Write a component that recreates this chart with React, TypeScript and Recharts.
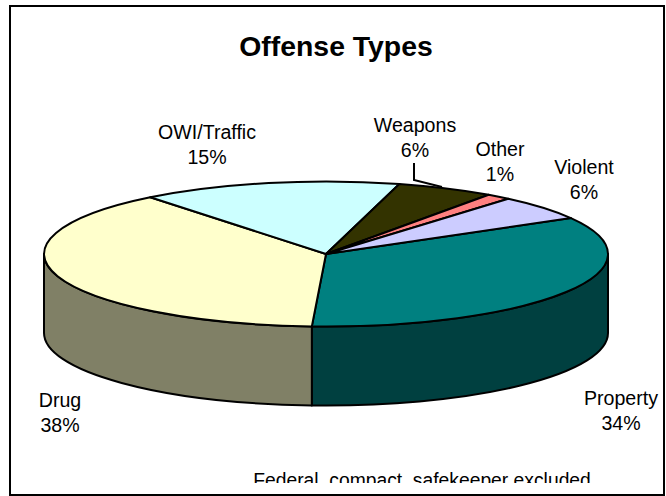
import React from "react";
import { PieChart, Pie, Cell } from "recharts";

const categories = ["Property", "Drug", "OWI/Traffic", "Weapons", "Other", "Violent"];
const shares = [34.05, 38.49, 14.9, 5.6, 1.4, 5.56];
const topColors = ["#008080", "#FFFFCC", "#CCFFFF", "#333300", "#FF8080", "#CCCCFF"];
const wallColors = ["#004040", "#808066", "#668080", "#1A1A00", "#804040", "#666680"];
const chartTitle = "Offense Types";
const footnote = "Federal, compact, safekeeper excluded";

const W = 666;
const H = 496;
const CX = 326;
const CY = 254;
const RX = 282;
const RY = 72.5;
const DEPTH = 79;
const FONT = "'Liberation Sans', Arial, sans-serif";
const LABEL_SIZE = 19.6;

const labelPos: Record<string, [number, number]> = {
  Property: [621, 405],
  Drug: [60, 407],
  "OWI/Traffic": [207, 139],
  Weapons: [415, 132],
  Other: [500, 156],
  Violent: [584, 174],
};

const data = categories.map((name, i) => ({ name, value: shares[i] }));

const pt = (deg: number, dy = 0) => {
  const a = (deg * Math.PI) / 180;
  return [CX + RX * Math.cos(a), CY - RY * Math.sin(a) + dy];
};
const f = (n: number) => n.toFixed(2);

function EllipticSector(props: any) {
  const { startAngle, endAngle, index } = props;
  const [sx, sy] = pt(startAngle);
  const [ex, ey] = pt(endAngle);
  const large = Math.abs(endAngle - startAngle) > 180 ? 1 : 0;
  const top = `M${CX},${CY} L${f(sx)},${f(sy)} A${RX},${RY} 0 ${large} 1 ${f(ex)},${f(ey)} Z`;
  // the visible wall: part of the arc lying in the lower half (angles -180..0)
  const lo = Math.max(Math.min(startAngle, endAngle), -180);
  const hi = Math.min(Math.max(startAngle, endAngle), 0);
  let wall = null;
  if (hi > lo) {
    const [ax, ay] = pt(hi);
    const [bx, by] = pt(lo);
    const d = `M${f(ax)},${f(ay)} A${RX},${RY} 0 0 1 ${f(bx)},${f(by)} L${f(bx)},${f(by + DEPTH)} A${RX},${RY} 0 0 0 ${f(ax)},${f(ay + DEPTH)} Z`;
    wall = <path d={d} fill={wallColors[index]} stroke="#000" strokeWidth={2} strokeLinejoin="round" />;
  }
  return (
    <g>
      {wall}
      <path d={top} fill={topColors[index]} stroke="#000" strokeWidth={2} strokeLinejoin="round" />
    </g>
  );
}

function renderLabel(props: any) {
  const { name, percent } = props;
  const [x, y] = labelPos[name];
  return (
    <text x={x} y={y} textAnchor="middle" fontFamily={FONT} fontSize={LABEL_SIZE} fill="#000">
      <tspan x={x} dy={0}>{name}</tspan>
      <tspan x={x} dy={25}>{`${Math.round(percent * 100)}%`}</tspan>
    </text>
  );
}

export default function App() {
  return (
    <div style={{ position: "absolute", left: 0, top: 0, width: W, height: H, background: "#fff" }}>
      <PieChart width={W} height={H} margin={{ top: 0, right: 0, bottom: 0, left: 0 }}>
        <defs>
          <clipPath id="noteClip">
            <rect x={0} y={460} width={W} height={23} />
          </clipPath>
        </defs>
        <rect x={10} y={6} width={654} height={489} fill="#fff" stroke="#000" strokeWidth={2} />
        <text x={336} y={56} textAnchor="middle" fontFamily={FONT} fontSize={28.4} fontWeight="bold" fill="#000">
          {chartTitle}
        </text>
        <path d="M414,163 L414,180 L442,187" fill="none" stroke="#000" strokeWidth={2} />
        <Pie
          data={data}
          dataKey="value"
          nameKey="name"
          cx={CX}
          cy={CY}
          outerRadius={RX}
          startAngle={29.7}
          endAngle={-330.3}
          isAnimationActive={false}
          shape={EllipticSector}
          label={renderLabel}
          labelLine={false}
          stroke="#000"
        >
          {data.map((d, i) => (
            <Cell key={d.name} fill={topColors[i]} />
          ))}
        </Pie>
        <text x={422} y={487} textAnchor="middle" fontFamily={FONT} fontSize={19.3} fill="#000" clipPath="url(#noteClip)">
          {footnote}
        </text>
      </PieChart>
    </div>
  );
}
